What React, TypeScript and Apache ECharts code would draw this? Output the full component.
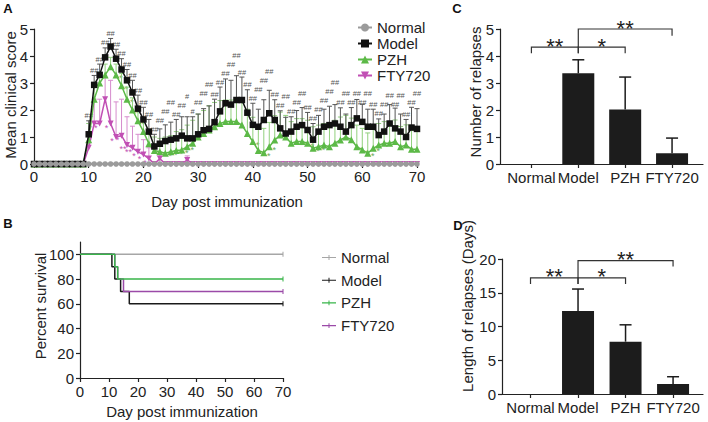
import React, { useEffect, useRef } from "react";
import * as echarts from "echarts";

const FF = "'Liberation Sans', Arial, Helvetica, sans-serif";

// ---------- Panel A: mean clinical score, days 0..70 ----------
const normalScore = [
  0, 0, 0, 0, 0, 0, 0, 0, 0, 0,
  0, 0, 0, 0, 0, 0, 0, 0, 0, 0,
  0, 0, 0, 0, 0, 0, 0, 0, 0, 0,
  0, 0, 0, 0, 0, 0, 0, 0, 0, 0,
  0, 0, 0, 0, 0, 0, 0, 0, 0, 0,
  0, 0, 0, 0, 0, 0, 0, 0, 0, 0,
  0, 0, 0, 0, 0, 0, 0, 0, 0, 0, 0,
];
const modelScore = [
  0, 0, 0, 0, 0, 0, 0, 0, 0, 0,
  1.1, 2.93, 3.3, 3.95, 4.35, 3.9, 3.5, 3.1, 2.65, 2.05,
  1.65, 1.2, 0.65, 0.75, 0.85, 0.9, 0.95, 1.05, 0.95, 0.95,
  1.1, 1.25, 1.3, 1.55, 1.95, 2.25, 2.2, 2.37, 2.37, 1.9,
  1.45, 1.38, 1.63, 1.88, 1.63, 1.32, 1.13, 1.2, 1.38, 1.44,
  1.26, 0.9, 1.2, 1.38, 1.44, 1.5, 1.38, 1.2, 1.44, 1.69,
  1.56, 1.38, 1.38, 1.07, 1.2, 1.5, 1.32, 1.2, 1.0, 1.35, 1.3,
];
const modelSem = [
  0, 0, 0, 0, 0, 0, 0, 0, 0, 0,
  0.5, 0.35, 0.4, 0.35, 0.3, 0.35, 0.4, 0.4, 0.45, 0.5,
  0.45, 0.45, 0.45, 0.55, 0.6, 0.65, 0.7, 0.7, 0.8, 0.8,
  0.75, 0.8, 0.85, 0.85, 0.9, 0.9, 0.9, 0.9, 0.85, 0.85,
  0.8, 0.65, 0.75, 0.85, 0.75, 0.65, 0.6, 0.55, 0.6, 0.65,
  0.65, 0.6, 0.6, 0.65, 0.7, 0.7, 0.7, 0.65, 0.65, 0.7,
  0.65, 0.65, 0.65, 0.6, 0.65, 0.7, 0.75, 0.65, 0.65, 0.75, 0.75,
];
const pzhScore = [
  0, 0, 0, 0, 0, 0, 0, 0, 0, 0,
  0.9, 2.4, 3.0, 3.3, 3.6, 3.3, 2.9, 2.4, 2.0, 1.6,
  1.2, 0.75, 0.5, 0.45, 0.4, 0.45, 0.5, 0.52, 0.64, 0.77,
  1.0, 1.13, 1.26, 1.38, 1.5, 1.57, 1.57, 1.57, 1.44, 1.13,
  0.83, 0.5, 0.42, 0.64, 0.89, 1.07, 1.0, 0.77, 0.83, 0.83,
  0.77, 0.58, 0.64, 0.7, 0.64, 0.77, 0.89, 1.0, 0.9, 0.64,
  0.52, 0.4, 0.58, 0.7, 0.77, 0.77, 0.83, 0.64, 0.7, 0.55, 0.55,
];
const pzhSem = [
  0, 0, 0, 0, 0, 0, 0, 0, 0, 0,
  0.6, 0.5, 0.4, 0.4, 0.35, 0.4, 0.45, 0.45, 0.45, 0.45,
  0.45, 0.5, 0.5, 0.5, 0.6, 0.6, 0.7, 0.75, 0.8, 0.85,
  0.85, 0.85, 0.9, 0.9, 0.85, 0.8, 0.8, 0.8, 0.85, 0.9,
  0.9, 0.85, 0.9, 0.9, 0.9, 0.85, 0.8, 0.8, 0.85, 0.85,
  0.85, 0.8, 0.8, 0.8, 0.8, 0.85, 0.85, 0.8, 0.8, 0.8,
  0.8, 0.75, 0.8, 0.8, 0.8, 0.8, 0.8, 0.75, 0.75, 0.7, 0.7,
];
const ftyScore = [
  0, 0, 0, 0, 0, 0, 0, 0, 0, 0,
  0.6, 1.5, 1.5, 2.4, 1.5, 1.0, 1.05, 0.7, 0.6, 0.45,
  0.35, 0.2, 0, 0.2, 0, 0, 0, 0, 0.15, 0,
  0, 0, 0, 0, 0, 0, 0, 0, 0, 0,
  0, 0, 0, 0, 0, 0, 0, 0, 0, 0,
  0, 0, 0, 0, 0, 0, 0, 0, 0, 0,
  0, 0, 0, 0, 0, 0, 0, 0, 0, 0, 0,
];
const ftySem = [
  0, 0, 0, 0, 0, 0, 0, 0, 0, 0,
  0.6, 0.9, 0.9, 0.8, 1.6, 1.3, 1.35, 1.05, 0.8, 0.65,
  0.55, 0.4, 0, 0.2, 0, 0, 0, 0, 0.15, 0,
  0, 0, 0, 0, 0, 0, 0, 0, 0, 0,
  0, 0, 0, 0, 0, 0, 0, 0, 0, 0,
  0, 0, 0, 0, 0, 0, 0, 0, 0, 0,
  0, 0, 0, 0, 0, 0, 0, 0, 0, 0, 0,
];
const modelSig = [
  "", "", "", "", "", "", "", "", "", "",
  "##", "##", "##", "##", "##", "##", "##", "##", "##", "##",
  "##", "##", "##", "##", "##", "##", "##", "##", "#", "#",
  "##", "##", "##", "##", "##", "##", "##", "##", "##", "##",
  "##", "##", "##", "##", "##", "##", "##", "##", "##", "##",
  "##", "##", "##", "##", "##", "##", "##", "##", "##", "##",
  "##", "##", "##", "##", "##", "##", "##", "##", "##", "##", "##",
];
const pzhSig = [
  "", "", "", "", "", "", "", "", "", "",
  "", "", "", "", "", "*", "*", "*", "*", "*",
  "*", "*", "*", "*", "*", "*", "*", "*", "*", "",
  "", "", "", "", "", "", "", "", "", "",
  "*", "*", "*", "*", "", "", "", "", "*", "*",
  "*", "*", "*", "*", "", "", "", "", "", "*",
  "*", "*", "*", "", "", "", "", "", "", "", "",
];
const ftySig = [
  "", "", "", "", "", "", "", "", "", "",
  "", "*", "*", "", "*", "*", "*", "**", "**", "*",
  "*", "*", "", "", "", "", "", "", "", "",
  "", "", "", "", "", "", "", "", "", "",
  "", "", "", "", "", "", "", "", "", "",
  "", "", "", "", "", "", "", "", "", "",
  "", "", "", "", "", "", "", "", "", "", "",
];
const groupNames = ["Normal", "Model", "PZH", "FTY720"];

// ---------- Panel B: survival ----------
const survNormalDays = [0, 70];
const survNormalPct = [100, 100];
const survModelDays = [0, 11, 12, 14, 17, 70];
const survModelPct = [100, 90, 80, 70, 60, 60];
const survPzhDays = [0, 12, 13, 70];
const survPzhPct = [100, 90, 80, 80];
const survFtyDays = [0, 12, 13, 15, 70];
const survFtyPct = [100, 90, 80, 70, 70];

// ---------- Panel C / D ----------
const groupPos = [1, 2, 3, 4];
const relapseMean = [0, 3.36, 2.02, 0.4];
const relapseSem = [0, 0.5, 1.2, 0.56];
const relapseBrackets = [
  [1, 2, 4.33, 4.1, 4.1],
  [2, 3, 4.33, 4.1, 4.1],
  [2, 4, 5.0, 4.33, 4.75],
];
const relapseBracketText = ["**", "*", "**"];
const lengthMean = [0, 12.3, 7.75, 1.48];
const lengthSem = [0, 3.25, 2.5, 1.08];
const lengthBrackets = [
  [1, 2, 17.2, 16.3, 16.3],
  [2, 3, 17.2, 16.3, 16.3],
  [2, 4, 19.75, 17.2, 18.9],
];
const lengthBracketText = ["**", "*", "**"];

const C_NORMAL = "#9b9b9b";
const C_MODEL = "#111111";
const C_PZH = "#5cb947";
const C_FTY = "#c14fb4";
const E_MODEL = "#555555";
const E_PZH = "#92d07e";
const E_FTY = "#d68ccd";

const S_NORMAL = "#a6a6a6";
const S_MODEL = "#1a1a1a";
const S_PZH = "#39b54a";
const S_FTY = "#9b4aa8";

// Legend A placement (the significance marks avoid its box)
const LEG_A_LEFT = 352;
const LEG_A_TOP = 15;
const LEG_A_BOTTOM = 88;

const axisLine = { show: true, lineStyle: { color: "#222", width: 1.2 } };
const axisTickBase = { show: true, length: 4, inside: false, lineStyle: { color: "#222", width: 1.2 } };
const labelBase = { color: "#222", fontSize: 15, fontFamily: FF };

// Error bars with significance marks. For "top" mode the marks are placed above the
// error caps, shifted just enough to avoid overlapping the previous day's mark and the legend.
function errRender(means: number[], sems: number[], sigs: string[], color: string, sigColor: string,
  mode: "top" | "base", dx: number, dy: number, size: number, cap: number, lw: number, avoid: boolean) {
  let cache: number[] | null = null;
  const lineH = size + 1.5;
  const labelY = (api: any): number[] => {
    if (cache) return cache;
    const ys: number[] = [];
    let prevY = Infinity;
    let prevHas = false;
    for (let i = 0; i < means.length; i++) {
      const p = api.coord([i, means[i] + sems[i]]);
      let y = p[1] + dy;
      if (sigs[i] && avoid && prevHas && Math.abs(y - prevY) < lineH) {
        const up = prevY - lineH;
        const inLegend = p[0] > LEG_A_LEFT - 8 && up - lineH / 2 < LEG_A_BOTTOM;
        y = inLegend ? prevY + lineH : Math.min(y, up);
      }
      ys.push(y);
      prevHas = !!sigs[i];
      prevY = y;
    }
    cache = ys;
    return ys;
  };
  return (params: any, api: any) => {
    const i = params.dataIndex;
    const x = api.value(0);
    const m = api.value(1);
    const e = api.value(2);
    const base = api.coord([x, m]);
    const top = api.coord([x, m + e]);
    const children: any[] = [];
    if (e > 0) {
      children.push({ type: "line", shape: { x1: base[0], y1: base[1], x2: top[0], y2: top[1] }, style: { stroke: color, lineWidth: lw } });
      children.push({ type: "line", shape: { x1: top[0] - cap, y1: top[1], x2: top[0] + cap, y2: top[1] }, style: { stroke: color, lineWidth: lw } });
    }
    const sig = sigs[i];
    if (sig) {
      const y = mode === "top" ? labelY(api)[i] : base[1] + dy;
      children.push({
        type: "text",
        x: (mode === "top" ? top[0] : base[0]) + dx,
        y,
        style: { text: sig, align: "center", verticalAlign: "middle", fill: sigColor, font: `${size}px ${FF}` },
      });
    }
    return { type: "group", children };
  };
}

function bracketRender(labels: string[]) {
  return (params: any, api: any) => {
    const x1 = api.value(0), x2 = api.value(1), lv = api.value(2), l1 = api.value(3), l2 = api.value(4);
    const a = api.coord([x1, l1]);
    const b = api.coord([x1, lv]);
    const c = api.coord([x2, lv]);
    const d = api.coord([x2, l2]);
    return {
      type: "group",
      children: [
        { type: "polyline", shape: { points: [a, b, c, d] }, style: { stroke: "#333", lineWidth: 1.2, fill: null } },
        {
          type: "text",
          x: (b[0] + c[0]) / 2,
          y: b[1] - 1,
          style: { text: labels[params.dataIndex], align: "center", verticalAlign: "middle", fill: "#222", font: `22px ${FF}` },
        },
      ],
    };
  };
}

function buildOption(): any {
  const series: any[] = [];
  const noSig = ["", "", "", ""];
  // Panel A lines
  series.push({
    name: "Normal", type: "line", xAxisIndex: 0, yAxisIndex: 0,
    data: normalScore.map((v, i) => [i, v]), symbol: "circle", symbolSize: 5.5,
    itemStyle: { color: C_NORMAL }, lineStyle: { color: C_NORMAL, width: 2.5 }, z: 6,
  });
  series.push({
    name: "Model", type: "line", xAxisIndex: 0, yAxisIndex: 0,
    data: modelScore.map((v, i) => [i, v]), symbol: "rect", symbolSize: 6.5,
    itemStyle: { color: C_MODEL }, lineStyle: { color: C_MODEL, width: 1.5 }, z: 5,
  });
  series.push({
    name: "PZH", type: "line", xAxisIndex: 0, yAxisIndex: 0,
    data: pzhScore.map((v, i) => [i, v]), symbol: "triangle", symbolSize: 7,
    itemStyle: { color: C_PZH }, lineStyle: { color: C_PZH, width: 1.5 }, z: 4,
  });
  series.push({
    name: "FTY720", type: "line", xAxisIndex: 0, yAxisIndex: 0,
    data: ftyScore.map((v, i) => [i, v]), symbol: "triangle", symbolRotate: 180, symbolSize: 6,
    itemStyle: { color: C_FTY }, lineStyle: { color: C_FTY, width: 1.5 }, z: 4,
  });
  // Panel A error bars + significance marks
  series.push({
    type: "custom", xAxisIndex: 0, yAxisIndex: 0, z: 2,
    data: ftyScore.map((v, i) => [i, v, ftySem[i]]), encode: { x: 0, y: 1 },
    renderItem: errRender(ftyScore, ftySem, ftySig, E_FTY, C_FTY, "base", -4, 4, 9, 2.5, 1, false),
  });
  series.push({
    type: "custom", xAxisIndex: 0, yAxisIndex: 0, z: 2,
    data: pzhScore.map((v, i) => [i, v, pzhSem[i]]), encode: { x: 0, y: 1 },
    renderItem: errRender(pzhScore, pzhSem, pzhSig, E_PZH, "#6aa85a", "base", 5, 3, 9, 2.5, 1, false),
  });
  series.push({
    type: "custom", xAxisIndex: 0, yAxisIndex: 0, z: 3,
    data: modelScore.map((v, i) => [i, v, modelSem[i]]), encode: { x: 0, y: 1 },
    renderItem: errRender(modelScore, modelSem, modelSig, E_MODEL, "#555", "top", 0, -5, 7.5, 2.5, 1, true),
  });

  // Panel B survival curves
  const curves = [
    { name: "Normal", days: survNormalDays, pct: survNormalPct, color: S_NORMAL, z: 2 },
    { name: "Model", days: survModelDays, pct: survModelPct, color: S_MODEL, z: 3 },
    { name: "FTY720", days: survFtyDays, pct: survFtyPct, color: S_FTY, z: 4 },
    { name: "PZH", days: survPzhDays, pct: survPzhPct, color: S_PZH, z: 5 },
  ];
  curves.forEach((c) => {
    series.push({
      name: c.name, type: "line", step: "end", xAxisIndex: 1, yAxisIndex: 1,
      data: c.days.map((d, i) => [d, c.pct[i]]), symbol: "none", showSymbol: false,
      lineStyle: { color: c.color, width: 1.5 }, itemStyle: { color: c.color }, z: c.z,
    });
  });
  series.push({
    type: "scatter", xAxisIndex: 1, yAxisIndex: 1, symbol: "rect", symbolSize: [1.3, 5], z: 6,
    data: curves.map((c) => ({
      value: [c.days[c.days.length - 1], c.pct[c.pct.length - 1]],
      itemStyle: { color: c.color },
    })),
  });

  // Panel C
  series.push({
    type: "bar", xAxisIndex: 2, yAxisIndex: 2, barWidth: 32,
    data: groupPos.map((p, i) => [p, relapseMean[i]]), itemStyle: { color: "#1c1c1c" },
  });
  series.push({
    type: "custom", xAxisIndex: 2, yAxisIndex: 2, z: 3,
    data: groupPos.map((p, i) => [p, relapseMean[i], relapseSem[i]]), encode: { x: 0, y: 1 },
    renderItem: errRender(relapseMean, relapseSem, noSig, "#1c1c1c", "#222", "base", 0, 0, 10, 6, 1.5, false),
  });
  series.push({
    type: "custom", xAxisIndex: 2, yAxisIndex: 2, z: 3,
    data: relapseBrackets, encode: { x: [0, 1], y: [2, 3, 4] },
    renderItem: bracketRender(relapseBracketText),
  });
  // Panel D
  series.push({
    type: "bar", xAxisIndex: 3, yAxisIndex: 3, barWidth: 32,
    data: groupPos.map((p, i) => [p, lengthMean[i]]), itemStyle: { color: "#1c1c1c" },
  });
  series.push({
    type: "custom", xAxisIndex: 3, yAxisIndex: 3, z: 3,
    data: groupPos.map((p, i) => [p, lengthMean[i], lengthSem[i]]), encode: { x: 0, y: 1 },
    renderItem: errRender(lengthMean, lengthSem, noSig, "#1c1c1c", "#222", "base", 0, 0, 10, 6, 1.5, false),
  });
  series.push({
    type: "custom", xAxisIndex: 3, yAxisIndex: 3, z: 3,
    data: lengthBrackets, encode: { x: [0, 1], y: [2, 3, 4] },
    renderItem: bracketRender(lengthBracketText),
  });

  const catAxis = (grid: number, min: number, max: number) => ({
    gridIndex: grid, type: "value", min, max,
    axisLine, splitLine: { show: false },
    axisTick: { ...axisTickBase, customValues: groupPos },
    axisLabel: { ...labelBase, margin: 6, customValues: groupPos, formatter: (v: number) => groupNames[Math.round(v) - 1] || "" },
  });

  const legendText = { fontSize: 15, color: "#222", fontFamily: FF };
  const legIcon = "path://M0,4.2H20V5.8H0Z M9.3,1.5H10.7V8.5H9.3Z";

  const title = (text: string, x: number, y: number, rotate = false) => ({
    type: "text", x, y, rotation: rotate ? Math.PI / 2 : 0,
    style: { text, align: "center", verticalAlign: "middle", fill: "#222", font: `15px ${FF}` },
  });
  const letter = (text: string, x: number, y: number) => ({
    type: "text", x, y,
    style: { text, align: "center", verticalAlign: "middle", fill: "#111", font: `bold 13px ${FF}` },
  });

  return {
    animation: false,
    backgroundColor: "#ffffff",
    textStyle: { fontFamily: FF },
    grid: [
      { left: 34, top: 29, width: 383, height: 135 },
      { left: 80, top: 242, width: 203, height: 136 },
      { left: 500, top: 29, width: 203, height: 135 },
      { left: 502, top: 259, width: 201, height: 135 },
    ],
    xAxis: [
      { gridIndex: 0, type: "value", min: 0, max: 70, interval: 10, axisLine, axisTick: axisTickBase, axisLabel: { ...labelBase, margin: 5 }, splitLine: { show: false } },
      { gridIndex: 1, type: "value", min: 0, max: 70, interval: 10, axisLine, axisTick: axisTickBase, axisLabel: { ...labelBase, margin: 6 }, splitLine: { show: false } },
      catAxis(2, 0.33, 4.66),
      catAxis(3, 0.4, 4.63),
    ],
    yAxis: [
      { gridIndex: 0, type: "value", min: 0, max: 5, interval: 1, axisLine, axisTick: axisTickBase, axisLabel: { ...labelBase, margin: 6 }, splitLine: { show: false } },
      {
        gridIndex: 1, type: "value", min: 0, max: 110, axisLine,
        axisTick: { ...axisTickBase, customValues: [0, 20, 40, 60, 80, 100] },
        axisLabel: { ...labelBase, margin: 6, customValues: [0, 20, 40, 60, 80, 100] },
        splitLine: { show: false },
      },
      { gridIndex: 2, type: "value", min: 0, max: 5, interval: 1, axisLine, axisTick: axisTickBase, axisLabel: { ...labelBase, margin: 6 }, splitLine: { show: false } },
      { gridIndex: 3, type: "value", min: 0, max: 20, interval: 5, axisLine, axisTick: axisTickBase, axisLabel: { ...labelBase, margin: 6 }, splitLine: { show: false } },
    ],
    legend: [
      {
        selectedMode: false, orient: "vertical", left: LEG_A_LEFT, top: LEG_A_TOP,
        itemWidth: 14, itemHeight: 10, itemGap: 1,
        data: groupNames, textStyle: legendText,
      },
      {
        selectedMode: false, orient: "vertical", left: 317, top: 245,
        itemWidth: 14, itemHeight: 10, itemGap: 7.7,
        data: [
          { name: "Normal", icon: legIcon, itemStyle: { color: S_NORMAL, borderWidth: 0 } },
          { name: "Model", icon: legIcon, itemStyle: { color: S_MODEL, borderWidth: 0 } },
          { name: "PZH", icon: legIcon, itemStyle: { color: S_PZH, borderWidth: 0 } },
          { name: "FTY720", icon: legIcon, itemStyle: { color: S_FTY, borderWidth: 0 } },
        ],
        textStyle: legendText,
      },
    ],
    graphic: [
      letter("A", 8, 8),
      letter("B", 8, 223),
      letter("C", 457, 8),
      letter("D", 458, 225),
      title("Mean clinical score", 10, 95, true),
      title("Day post immunization", 227, 201),
      title("Percent survival", 40, 306, true),
      title("Day post immunization", 182, 411),
      title("Number of relapses", 475, 92, true),
      title("Length of relapses (Days)", 467, 306, true),
    ],
    series,
  };
}

export default function App() {
  const ref = useRef<HTMLDivElement>(null);
  useEffect(() => {
    const chart = echarts.init(ref.current as HTMLDivElement, null, { renderer: "svg" });
    chart.setOption(buildOption());
    return () => chart.dispose();
  }, []);
  return (
    <div
      ref={ref}
      style={{ position: "fixed", left: 0, top: 0, width: 708, height: 422, background: "#fff" }}
    />
  );
}
